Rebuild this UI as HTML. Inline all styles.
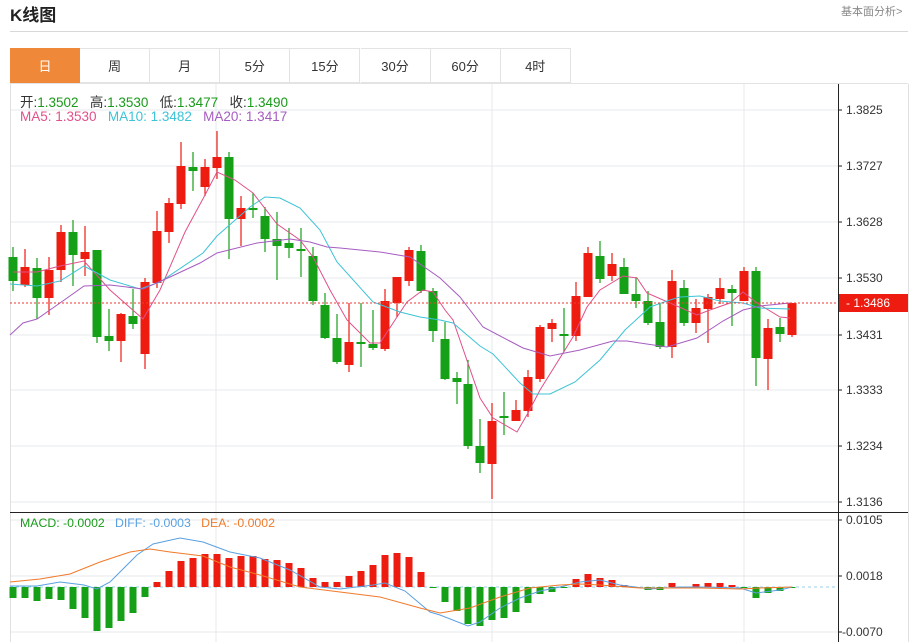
<!DOCTYPE html>
<html><head><meta charset="utf-8"><style>
body{margin:0;background:#fff;width:918px;height:642px;overflow:hidden;font-family:"Liberation Sans","Noto Sans CJK SC",sans-serif;}
.t{position:absolute;white-space:nowrap}
</style></head><body>
<div class="t" style="left:10px;top:1px;font-size:17px;font-weight:bold;color:#222">K线图</div>
<div class="t" style="left:841px;top:3px;font-size:11px;color:#888">基本面分析&gt;</div>
<div style="position:absolute;left:10px;top:31px;width:898px;height:1px;background:#d8d8d8"></div>
<div id="tabs"></div>
<svg id="s" width="918" height="642" style="position:absolute;left:0;top:0"></svg>
<div class="t" style="left:20px;top:91px;font-size:13.5px;color:#333">开:<span style="color:#1a9a1a">1.3502</span>&nbsp;&nbsp; 高:<span style="color:#1a9a1a">1.3530</span>&nbsp;&nbsp; 低:<span style="color:#1a9a1a">1.3477</span>&nbsp;&nbsp; 收:<span style="color:#1a9a1a">1.3490</span></div>
<div class="t" style="left:20px;top:109px;font-size:13.5px"><span style="color:#e0508a">MA5: 1.3530</span>&nbsp;&nbsp; <span style="color:#3cc3d6">MA10: 1.3482</span>&nbsp;&nbsp; <span style="color:#a65cc0">MA20: 1.3417</span></div>
<div class="t" style="left:20px;top:516px;font-size:12.3px"><span style="color:#1a9a1a">MACD: -0.0002</span>&nbsp;&nbsp; <span style="color:#5aa0e0">DIFF: -0.0003</span>&nbsp;&nbsp; <span style="color:#f07a2a">DEA: -0.0002</span></div>
<script>
var tabs=["日","周","月","5分","15分","30分","60分","4时"],h="";
tabs.forEach(function(t,i){var x=10+i*70.1;h+='<div class="t" style="left:'+x+'px;top:48px;width:70px;height:35px;line-height:35px;text-align:center;font-size:13px;box-sizing:border-box;border:1px solid #e3e3e3;border-left:'+(i?0:1)+'px solid #e3e3e3;'+(i==0?'background:#f0883a;color:#fff;border-color:#f0883a;':'color:#333;background:#fff;')+'">'+t+'</div>';});
document.getElementById('tabs').innerHTML=h;
var S="";
[110,166,222,278,335,390,446,502,520,576,632].forEach(function(y){S+='<line x1="10" x2="838" y1="'+y+'" y2="'+y+'" stroke="#e6e9ee" stroke-width="1"/>';});
[216,492,744].forEach(function(x){S+='<line x1="'+x+'" x2="'+x+'" y1="84" y2="642" stroke="#e6e9ee"/>';});
S+='<line x1="10.5" x2="10.5" y1="84" y2="642" stroke="#e0e0e0"/>';
S+='<line x1="908.5" x2="908.5" y1="84" y2="642" stroke="#e0e0e0"/>';
S+='<line x1="838.5" x2="838.5" y1="84" y2="642" stroke="#222"/>';
S+='<line x1="10" x2="908" y1="512.5" y2="512.5" stroke="#222"/>';
S+='<line x1="10" x2="908" y1="83.5" y2="83.5" stroke="#e3e3e3"/>';
var pt=[["1.3825",110],["1.3727",166],["1.3628",222],["1.3530",278],["1.3431",335],["1.3333",390],["1.3234",446],["1.3136",502],["0.0105",520],["0.0018",576],["-0.0070",632]];
pt.forEach(function(p){S+='<line x1="838" x2="842" y1="'+p[1]+'" y2="'+p[1]+'" stroke="#222"/><text x="'+(p[0][0]=="-"?842:846)+'" y="'+(p[1]+4)+'" font-size="12" fill="#333">'+p[0]+'</text>';});
var C=[[13,247,257,281,291,'G'],[25,249,267,285,287,'R'],[37,258,268,298,319,'G'],[49,257,270,298,315,'R'],[61,225,232,270,282,'R'],[73,220,232,255,286,'G'],[85,226,252,259,276,'R'],[97,250,250,337,343,'G'],[109,309,336,341,351,'G'],[121,313,314,341,362,'R'],[133,289,316,324,329,'G'],[145,278,282,354,369,'R'],[157,211,231,283,288,'R'],[169,198,203,232,243,'R'],[181,142,166,204,209,'R'],[193,152,167,171,191,'G'],[205,159,167,187,196,'R'],[217,131,157,168,179,'R'],[229,152,157,219,259,'G'],[241,196,208,219,246,'R'],[253,193,208,210,218,'G'],[265,207,216,239,252,'G'],[277,212,239,246,280,'G'],[289,228,243,248,258,'G'],[301,228,249,251,277,'G'],[313,247,256,301,305,'G'],[325,293,305,338,339,'G'],[337,314,338,362,364,'G'],[349,303,342,365,372,'R'],[361,303,342,343,367,'G'],[373,310,344,348,350,'G'],[385,289,301,349,351,'R'],[397,277,277,303,317,'R'],[409,247,250,281,286,'R'],[421,245,251,291,293,'G'],[433,288,291,331,342,'G'],[445,322,339,379,380,'G'],[457,372,378,382,404,'G'],[468,360,384,446,449,'G'],[480,419,446,463,473,'G'],[492,403,421,464,499,'R'],[504,392,416,418,435,'G'],[516,400,410,421,421,'R'],[528,370,377,411,417,'R'],[540,325,327,379,382,'R'],[552,319,323,329,342,'R'],[564,308,334,335,352,'G'],[576,282,296,336,341,'R'],[588,247,253,297,297,'R'],[600,241,256,279,283,'G'],[612,253,264,276,281,'R'],[624,258,267,294,294,'G'],[636,277,294,301,308,'G'],[648,291,301,323,325,'G'],[660,304,322,347,349,'G'],[672,270,281,347,358,'R'],[684,280,288,323,326,'G'],[696,299,308,323,333,'R'],[708,294,297,309,343,'R'],[720,278,288,299,304,'R'],[732,285,289,293,326,'G'],[744,267,271,301,301,'R'],[756,267,271,358,386,'G'],[768,319,328,359,390,'R'],[780,318,327,334,342,'G'],[792,303,303,335,337,'R']];
var RC="#ee1c10",GC="#16a018";
C.forEach(function(c){var col=c[5]=='R'?RC:GC;S+='<line x1="'+c[0]+'" x2="'+c[0]+'" y1="'+c[1]+'" y2="'+c[4]+'" stroke="'+col+'" stroke-width="1.2"/><rect x="'+(c[0]-4.5)+'" y="'+c[2]+'" width="9" height="'+Math.max(2,c[3]-c[2])+'" fill="'+col+'"/>';});
function pl(p,col,w){S+='<polyline fill="none" stroke="'+col+'" stroke-width="'+(w||1)+'" points="'+p+'"/>';}
pl("13,272 37,272 60,266 84,261 110,290 143,319 160,290 185,232 205,195 217,172 235,180 253,193 277,224 300,240 313,257 330,290 347,320 370,343 380,343 397,317 407,302 423,290 433,292 445,310 453,320 480,398 493,418 517,432 528,413 540,390 573,337 587,307 600,290 623,276 637,278 647,293 670,303 697,315 710,310 730,303 743,292 757,303 780,317 790,318","#e0508a");
pl("10,284 37,286 60,281 84,266 110,280 140,289 160,282 203,253 217,236 250,207 265,197 280,198 300,208 320,230 337,262 373,302 400,312 420,317 440,320 453,323 480,346 493,354 520,383 533,394 550,394 575,382 600,360 625,330 650,307 670,300 680,297 700,296 720,301 743,303 760,308 790,309","#3cc3d6");
pl("10,335 23,323 37,319 60,303 84,286 110,285 143,289 170,277 200,263 217,253 257,243 290,239 310,242 327,247 340,248 380,252 410,257 440,278 460,297 483,327 523,348 550,356 580,350 613,341 627,341 667,347 697,338 723,321 743,310 760,306 790,303","#a65cc0");
S+='<line x1="10" x2="838" y1="303" y2="303" stroke="#ee3a30" stroke-dasharray="2,2"/>';
S+='<rect x="839" y="294" width="69" height="18" fill="#ee1c10"/><text x="846" y="307" font-size="12" fill="#fff">- 1.3486</text>';
S+='<line x1="10" x2="838" y1="587" y2="587" stroke="#9ad0e8" stroke-dasharray="3,3"/>';
var M=[598,598,601,599,600,609,618,631,628,621,613,597,582,571,561,558,554,554,558,556,556,559,560,563,568,578,582,582,576,571,565,555,553,557,572,588,602,611,624,626,620,618,612,603,594,592,588,579,574,578,580,585,588,590,590,583,588,584,583,583,585,588,598,593,591,588];
M.forEach(function(v,i){var x=C[i][0];var y1=Math.min(v,587),y2=Math.max(v,587);if(y2-y1<1)return;S+='<rect x="'+(x-3.5)+'" y="'+y1+'" width="7" height="'+(y2-y1)+'" fill="'+(v<587?RC:GC)+'"/>';});
pl("10,586 37,586 60,582 84,585 97,589 110,582 137,555 153,544 180,538 203,542 230,552 260,558 290,570 320,587 340,589 373,585 385,583 405,591 430,612 440,615 468,626 480,622 500,608 520,598 540,591 560,587 580,582 600,580 620,585 650,589 680,587 700,587 740,588 756,593 780,590 792,587","#5aa0e0");
pl("10,582 40,579 70,574 100,562 130,552 150,549 170,552 203,556 230,567 260,575 300,587 340,592 380,597 420,608 440,613 470,608 500,597 530,588 560,585 580,584 600,585 640,588 700,588 740,589 760,588 792,587","#f07a2a");
document.getElementById('s').innerHTML=S;
</script>
</body></html>
